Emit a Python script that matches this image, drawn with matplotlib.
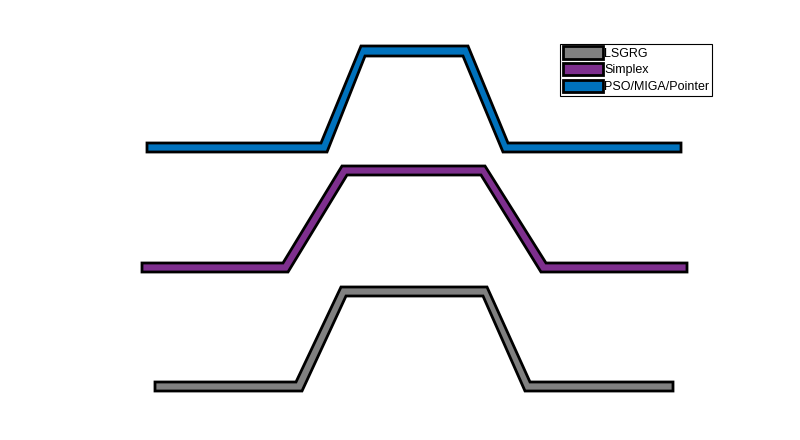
import matplotlib
matplotlib.use("Agg")
import matplotlib.pyplot as plt
from matplotlib.patches import Polygon, Patch

plt.rcParams['font.family'] = ['Liberation Sans', 'DejaVu Sans']

labels = ["LSGRG", "Simplex", "PSO/MIGA/Pointer"]
colors = ["#808080", "#7E2F8E", "#0072BD"]

# Upper-edge and lower-edge breakpoints of each band profile (x right, y down)
lsgrg_x_up = [155, 296, 341, 487, 530, 673]
lsgrg_y_up = [382, 382, 287, 287, 382, 382]
lsgrg_x_lo = [155, 302, 346, 483, 525, 673]
lsgrg_y_lo = [391, 391, 296, 296, 391, 391]

simplex_x_up = [142, 283, 342, 485, 546, 687]
simplex_y_up = [263, 263, 166, 166, 263, 263]
simplex_x_lo = [142, 288, 347, 481, 541, 687]
simplex_y_lo = [272, 272, 175, 175, 272, 272]

pso_x_up = [147, 321, 361, 468, 508, 681]
pso_y_up = [143, 143, 46, 46, 143, 143]
pso_x_lo = [147, 327, 365, 463, 503, 681]
pso_y_lo = [152, 152, 56, 56, 152, 152]

series = [
    (lsgrg_x_up, lsgrg_y_up, lsgrg_x_lo, lsgrg_y_lo),
    (simplex_x_up, simplex_y_up, simplex_x_lo, simplex_y_lo),
    (pso_x_up, pso_y_up, pso_x_lo, pso_y_lo),
]

fig = plt.figure(figsize=(8, 4.4), dpi=100)
ax = fig.add_axes([0, 0, 1, 1])
ax.set_xlim(0, 800)
ax.set_ylim(440, 0)
ax.axis('off')

for (xu, yu, xl, yl), c in zip(series, colors):
    verts = list(zip(xu, yu)) + list(zip(xl[::-1], yl[::-1]))
    ax.add_patch(Polygon(verts, closed=True, facecolor=c, edgecolor='black',
                         linewidth=2.0, joinstyle='miter'))

handles = [Patch(facecolor=c, edgecolor='black', linewidth=2.0) for c in colors]
leg = ax.legend(handles, labels, loc='upper right', bbox_to_anchor=(0.89, 0.9),
                fontsize=9, frameon=True, fancybox=False, framealpha=1,
                edgecolor='black', handlelength=3.2, handleheight=1.15,
                handletextpad=0.15, labelspacing=0.25, borderpad=0.2,
                borderaxespad=0)
leg.get_frame().set_linewidth(0.8)

fig.savefig("out.png", dpi=100)
